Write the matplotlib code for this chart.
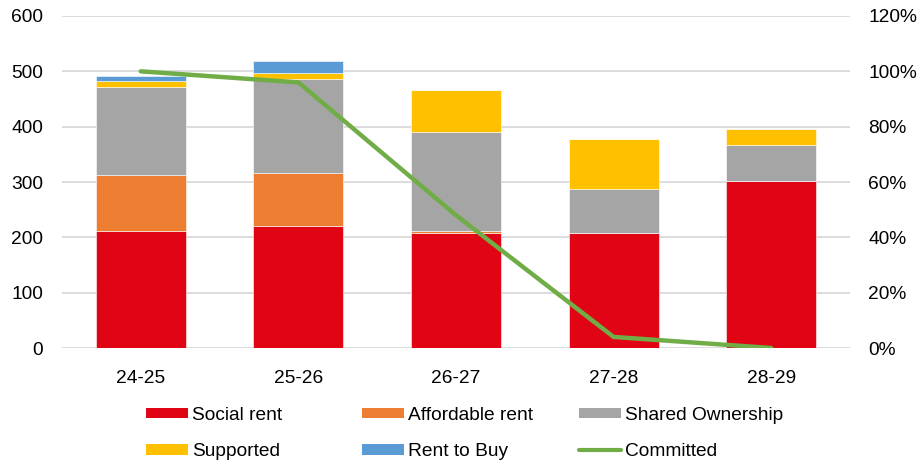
import matplotlib
matplotlib.use("Agg")
import matplotlib.pyplot as plt
from matplotlib.patches import Patch
from matplotlib.lines import Line2D
from matplotlib.ticker import FuncFormatter
import numpy as np

plt.rcParams['font.family'] = ['Liberation Sans', 'DejaVu Sans']

categories = ["24-25", "25-26", "26-27", "27-28", "28-29"]
social_rent = [211, 221, 207, 207, 302]
affordable_rent = [101, 95, 4, 0, 0]
shared_ownership = [160, 170, 180, 80, 64]
supported = [11, 11, 76, 90, 30]
rent_to_buy = [9, 22, 0, 0, 0]
committed = [1.00, 0.96, 0.48, 0.04, 0.0]

series = [
    ("Social rent", social_rent, "#e00414"),
    ("Affordable rent", affordable_rent, "#ed7d31"),
    ("Shared Ownership", shared_ownership, "#a5a5a5"),
    ("Supported", supported, "#ffc000"),
    ("Rent to Buy", rent_to_buy, "#5b9bd5"),
]
green = "#70ad47"
FS = 13.8

fig = plt.figure(figsize=(9.19, 4.61), dpi=100)
ax = fig.add_axes([62/919, 1-348/461, (850-62)/919, (348-16)/461])
x = np.arange(len(categories))
bottom = np.zeros(len(categories))
for name, vals, col in series:
    v = np.array(vals, dtype=float)
    ax.bar(x, v, width=0.57, bottom=bottom, color=col, edgecolor="white",
           linewidth=0.4, zorder=2)
    bottom += v

ax.set_xlim(-0.5, len(categories) - 0.5)
ax.set_ylim(0, 600)
ax.set_yticks(range(0, 601, 100))
ax.set_xticks(x)
ax.set_xticklabels(categories)
ax.yaxis.grid(True, color="#d9d9d9", linewidth=1.3, zorder=0)
ax.set_axisbelow(True)
for s in ax.spines.values():
    s.set_visible(False)
ax.tick_params(axis="both", length=0, labelsize=FS, colors="#000000")
ax.tick_params(axis="y", pad=13.5)
ax.tick_params(axis="x", pad=15.5)

ax2 = ax.twinx()
ax2.plot(x, committed, color=green, linewidth=3.2, solid_capstyle="round", zorder=5)
ax2.set_ylim(0, 1.2)
ax2.set_yticks(np.arange(0, 1.21, 0.2))
ax2.yaxis.set_major_formatter(FuncFormatter(lambda v, p: f"{v*100:.0f}%"))
for s in ax2.spines.values():
    s.set_visible(False)
ax2.tick_params(axis="y", length=0, labelsize=FS, pad=13)

# Legend: three columns at fixed positions
cols = [
    [(series[0][0], Patch(facecolor=series[0][2])), (series[3][0], Patch(facecolor=series[3][2]))],
    [(series[1][0], Patch(facecolor=series[1][2])), (series[4][0], Patch(facecolor=series[4][2]))],
    [(series[2][0], Patch(facecolor=series[2][2])),
     ("Committed", Line2D([0], [0], color=green, linewidth=3, solid_capstyle="round"))],
]
xs = [146, 362, 579]
for xc, entries in zip(xs, cols):
    leg = fig.legend([e[1] for e in entries], [e[0] for e in entries],
                     loc="upper left", bbox_to_anchor=(xc/919, 1 - 407/461),
                     frameon=False, fontsize=FS, handlelength=2.2,
                     handleheight=0.47, handletextpad=0.2, labelspacing=1.0,
                     borderpad=0, borderaxespad=0)

fig.savefig("out.png", dpi=100)
